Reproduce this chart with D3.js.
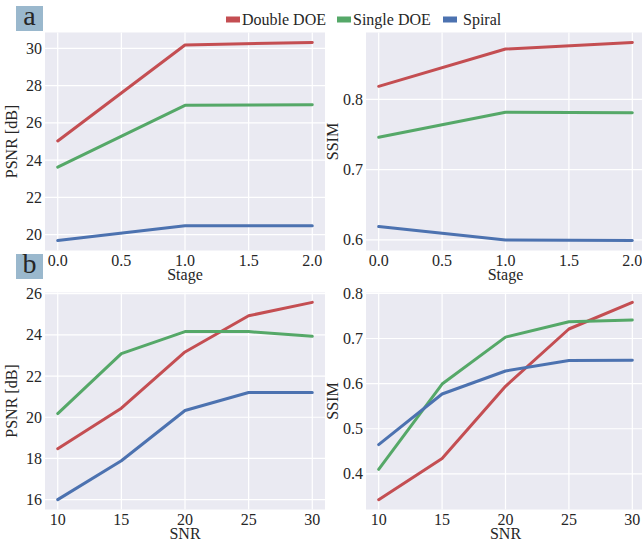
<!DOCTYPE html>
<html>
<head>
<meta charset="utf-8">
<script src="https://cdn.jsdelivr.net/npm/d3@7"></script>
</head>
<body style="margin:0;background:#fff">
<div id="chart"></div>
<script>
// series names and colours
var seriesNames = ["Double DOE", "Single DOE", "Spiral"];
var seriesColors = ["#C44E52", "#55A868", "#4C72B0"];

// panel a : stage
var stages = [0, 1, 2];
var psnrStageDouble = [25.03, 30.18, 30.32];
var psnrStageSingle = [23.62, 26.94, 26.97];
var psnrStageSpiral = [19.68, 20.48, 20.48];
var ssimStageDouble = [0.8185, 0.8716, 0.881];
var ssimStageSingle = [0.746, 0.7815, 0.781];
var ssimStageSpiral = [0.619, 0.5998, 0.599];

// panel b : snr
var snrs = [10, 15, 20, 25, 30];
var psnrSnrDouble = [18.47, 20.44, 23.17, 24.93, 25.58];
var psnrSnrSingle = [20.18, 23.09, 24.16, 24.16, 23.93];
var psnrSnrSpiral = [16.0, 17.89, 20.33, 21.2, 21.2];
var ssimSnrDouble = [0.343, 0.434, 0.594, 0.721, 0.780];
var ssimSnrSingle = [0.41, 0.599, 0.703, 0.737, 0.741];
var ssimSnrSpiral = [0.465, 0.577, 0.628, 0.651, 0.652];

// tick labels
var stageTicks = [0, 0.5, 1, 1.5, 2];
var snrTicks = [10, 15, 20, 25, 30];
var psnrStageTicks = [20, 22, 24, 26, 28, 30];
var ssimStageTicks = [0.6, 0.7, 0.8];
var psnrSnrTicks = [16, 18, 20, 22, 24, 26];
var ssimSnrTicks = [0.4, 0.5, 0.6, 0.7, 0.8];

var width = 642, height = 541;
var textColor = '#262626';

var svg = d3.select('#chart').append('svg')
  .attr('width', width)
  .attr('height', height)
  .attr('font-family', 'Liberation Serif');

// helper so every label gets the same font
function label(sel, size) {
  return sel.attr('font-family', 'Liberation Serif')
    .attr('font-size', size)
    .attr('fill', textColor);
}

function drawPanel(p) {
  var all = d3.merge(p.series);
  var ext = d3.extent(all);
  var pad = (ext[1] - ext[0]) * 0.05;
  var xext = d3.extent(p.xs);
  var xpad = (xext[1] - xext[0]) * 0.05;

  var x = d3.scaleLinear().domain([xext[0] - xpad, xext[1] + xpad]).range([p.left, p.right]);
  var y = d3.scaleLinear().domain([ext[0] - pad, ext[1] + pad]).range([p.bottom, p.top]);

  var g = svg.append('g');

  g.append('rect')
    .attr('x', p.left).attr('y', p.top)
    .attr('width', p.right - p.left).attr('height', p.bottom - p.top)
    .attr('fill', '#EAEAF2');

  // grid
  g.selectAll('.vgrid').data(p.xTicks).enter().append('line')
    .attr('x1', function(d) { return x(d); }).attr('x2', function(d) { return x(d); })
    .attr('y1', p.top).attr('y2', p.bottom)
    .attr('stroke', '#fff').attr('stroke-width', 1.2);
  g.selectAll('.hgrid').data(p.yTicks).enter().append('line')
    .attr('y1', function(d) { return y(d); }).attr('y2', function(d) { return y(d); })
    .attr('x1', p.left).attr('x2', p.right)
    .attr('stroke', '#fff').attr('stroke-width', 1.2);

  // tick labels
  label(g.selectAll('.xt').data(p.xTicks).enter().append('text'), 16)
    .attr('x', function(d) { return x(d); })
    .attr('y', p.bottom + 15)
    .attr('text-anchor', 'middle')
    .text(d3.format(p.xFmt));
  label(g.selectAll('.yt').data(p.yTicks).enter().append('text'), 16)
    .attr('x', p.left - 3)
    .attr('y', function(d) { return y(d) + 5.5; })
    .attr('text-anchor', 'end')
    .text(d3.format(p.yFmt));

  // axis labels
  label(g.append('text'), 16)
    .attr('x', x((xext[0] + xext[1]) / 2))
    .attr('y', p.bottom + 29.5)
    .attr('text-anchor', 'middle')
    .text(p.xLabel);
  label(g.append('text'), 16)
    .attr('transform', 'translate(' + (p.left - 28) + ',' + ((p.top + p.bottom) / 2) + ') rotate(-90)')
    .attr('text-anchor', 'middle')
    .text(p.yLabel);

  // lines
  var line = d3.line()
    .x(function(d, i) { return x(p.xs[i]); })
    .y(function(d) { return y(d); });

  g.selectAll('.series').data(p.series).enter().append('path')
    .attr('d', line)
    .attr('fill', 'none')
    .attr('stroke', function(d, i) { return seriesColors[i]; })
    .attr('stroke-width', 3)
    .attr('stroke-linecap', 'round')
    .attr('stroke-linejoin', 'round');
}

drawPanel({ left: 45, right: 325, top: 32.5, bottom: 250.5, xs: stages,
  series: [psnrStageDouble, psnrStageSingle, psnrStageSpiral],
  xTicks: stageTicks, yTicks: psnrStageTicks, xFmt: '.1f', yFmt: 'd',
  xLabel: 'Stage', yLabel: 'PSNR [dB]' });
drawPanel({ left: 366, right: 645, top: 32.5, bottom: 250.5, xs: stages,
  series: [ssimStageDouble, ssimStageSingle, ssimStageSpiral],
  xTicks: stageTicks, yTicks: ssimStageTicks, xFmt: '.1f', yFmt: '.1f',
  xLabel: 'Stage', yLabel: 'SSIM' });
drawPanel({ left: 45, right: 325, top: 292.5, bottom: 509.5, xs: snrs,
  series: [psnrSnrDouble, psnrSnrSingle, psnrSnrSpiral],
  xTicks: snrTicks, yTicks: psnrSnrTicks, xFmt: 'd', yFmt: 'd',
  xLabel: 'SNR', yLabel: 'PSNR [dB]' });
drawPanel({ left: 366, right: 645, top: 292.5, bottom: 509.5, xs: snrs,
  series: [ssimSnrDouble, ssimSnrSingle, ssimSnrSpiral],
  xTicks: snrTicks, yTicks: ssimSnrTicks, xFmt: 'd', yFmt: '.1f',
  xLabel: 'SNR', yLabel: 'SSIM' });

// panel letters
var letters = [{ t: 'a', y: 6 }, { t: 'b', y: 254 }];
var lg = svg.selectAll('.letter').data(letters).enter().append('g');
lg.append('rect')
  .attr('x', 16).attr('y', function(d) { return d.y; })
  .attr('width', 27).attr('height', 25)
  .attr('fill', '#9AB8CD');
label(lg.append('text'), 28)
  .attr('x', 29.5).attr('y', function(d) { return d.y + 19; })
  .attr('text-anchor', 'middle')
  .text(function(d) { return d.t; });

// legend
var legendX = [226, 337, 443];
var legend = svg.selectAll('.legend').data(seriesNames).enter().append('g')
  .attr('transform', function(d, i) { return 'translate(' + legendX[i] + ',0)'; });
legend.append('rect')
  .attr('x', 0).attr('y', 16.5).attr('width', 14).attr('height', 6)
  .attr('fill', function(d, i) { return seriesColors[i]; });
label(legend.append('text'), 16)
  .attr('x', function(d, i) { return i === 2 ? 20 : 16; }).attr('y', 25)
  .text(function(d) { return d; });
</script>
</body>
</html>
